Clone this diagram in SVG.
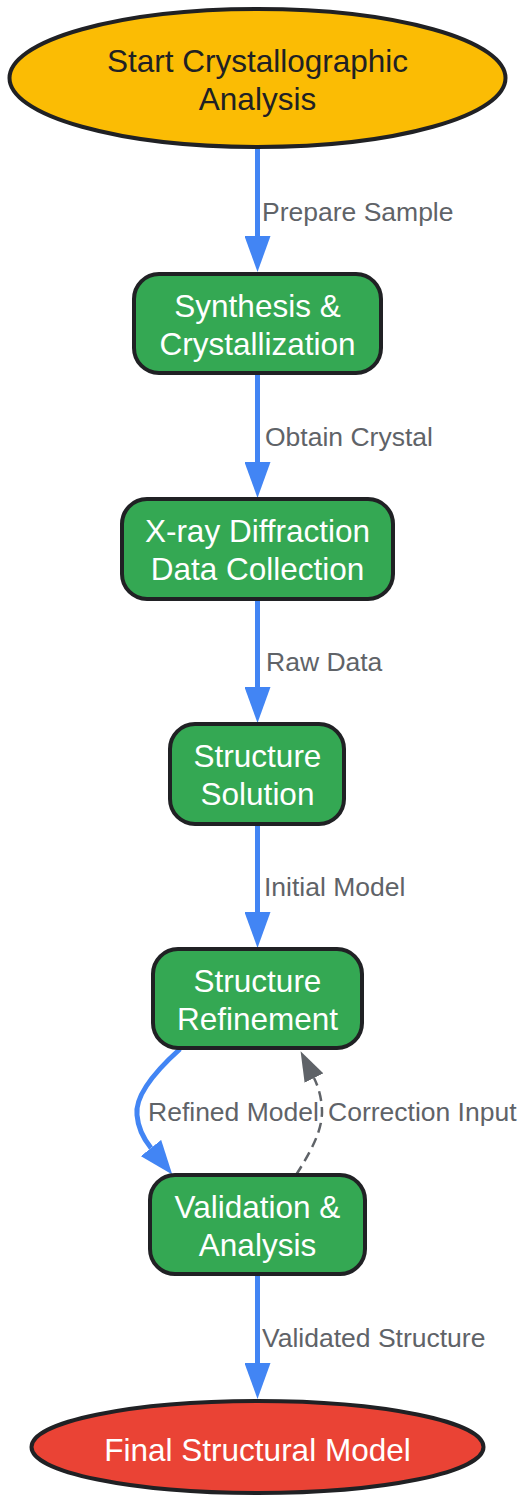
<svg xmlns="http://www.w3.org/2000/svg" width="519" height="1496" viewBox="0 0 519 1496">
  <defs>
    <style>
      .node { stroke: #202124; stroke-width: 4; }
      .start { fill: #FBBC04; }
      .proc { fill: #34A853; }
      .end { fill: #EA4335; }
      .nt { font-family: "Liberation Sans", Arial, sans-serif; font-size: 31.5px; text-anchor: middle; }
      .dark { fill: #202124; }
      .light { fill: #FFFFFF; }
      .flow { fill: none; stroke: #4285F4; stroke-width: 5; }
      .fb { fill: none; stroke: #5F6368; stroke-width: 2.5; stroke-dasharray: 10 6; }
      .lbl { font-family: "Liberation Sans", Arial, sans-serif; font-size: 26.5px; fill: #5F6368; }
    </style>
    <marker id="ab" markerUnits="userSpaceOnUse" markerWidth="36" markerHeight="26" refX="0" refY="13" orient="auto">
      <path d="M0,0 L36,13 L0,26 Z" fill="#4285F4"/>
    </marker>
    <marker id="ab2" markerUnits="userSpaceOnUse" markerWidth="34" markerHeight="26" refX="0" refY="13" orient="auto">
      <path d="M0,0 L34,13 L0,26 Z" fill="#4285F4"/>
    </marker>
    <marker id="ag" markerUnits="userSpaceOnUse" markerWidth="30" markerHeight="21" refX="0" refY="10.5" orient="auto">
      <path d="M0,0 L30,10.5 L0,21 Z" fill="#5F6368"/>
    </marker>
  </defs>

  <g id="connectors">
    <path class="flow" d="M257.5,148 L257.5,236" marker-end="url(#ab)"/>
    <path class="flow" d="M257.5,374 L257.5,462" marker-end="url(#ab)"/>
    <path class="flow" d="M257.5,600 L257.5,687" marker-end="url(#ab)"/>
    <path class="flow" d="M257.5,825 L257.5,912" marker-end="url(#ab)"/>
    <path class="flow" d="M180,1049 C150,1076 135,1098 137,1115 C138,1128 143,1138 151,1148" marker-end="url(#ab2)"/>
    <path class="fb" d="M296,1175 C312,1150 322,1130 322,1112 C322,1100 319,1088 314,1078" marker-end="url(#ag)"/>
    <path class="flow" d="M257.5,1275 L257.5,1363" marker-end="url(#ab)"/>
    <text class="lbl" x="262" y="221">Prepare Sample</text>
    <text class="lbl" x="265" y="446">Obtain Crystal</text>
    <text class="lbl" x="266" y="671">Raw Data</text>
    <text class="lbl" x="264" y="896">Initial Model</text>
    <text class="lbl" x="148" y="1121">Refined Model</text>
    <text class="lbl" x="328" y="1121">Correction Input</text>
    <text class="lbl" x="262" y="1347">Validated Structure</text>
  </g>

  <g id="start">
    <ellipse class="node start" cx="257.5" cy="78" rx="248" ry="69"/>
    <text class="nt dark" x="257.5" y="72">Start Crystallographic</text>
    <text class="nt dark" x="257.5" y="110">Analysis</text>
  </g>

  <g id="synthesis">
    <rect class="node proc" x="134" y="274" width="247" height="99" rx="25"/>
    <text class="nt light" x="257.5" y="317">Synthesis &amp;</text>
    <text class="nt light" x="257.5" y="355">Crystallization</text>
  </g>

  <g id="xray">
    <rect class="node proc" x="122" y="499" width="271" height="100" rx="25"/>
    <text class="nt light" x="257.5" y="542">X-ray Diffraction</text>
    <text class="nt light" x="257.5" y="580">Data Collection</text>
  </g>

  <g id="solution">
    <rect class="node proc" x="170" y="724" width="174" height="100" rx="25"/>
    <text class="nt light" x="257.5" y="767">Structure</text>
    <text class="nt light" x="257.5" y="805">Solution</text>
  </g>

  <g id="refinement">
    <rect class="node proc" x="153" y="949" width="209" height="99" rx="25"/>
    <text class="nt light" x="257.5" y="992">Structure</text>
    <text class="nt light" x="257.5" y="1030">Refinement</text>
  </g>

  <g id="validation">
    <rect class="node proc" x="150" y="1175" width="215" height="99" rx="25"/>
    <text class="nt light" x="257.5" y="1218">Validation &amp;</text>
    <text class="nt light" x="257.5" y="1256">Analysis</text>
  </g>

  <g id="final">
    <ellipse class="node end" cx="257.5" cy="1447" rx="226" ry="46"/>
    <text class="nt light" x="257.5" y="1461">Final Structural Model</text>
  </g>
</svg>
